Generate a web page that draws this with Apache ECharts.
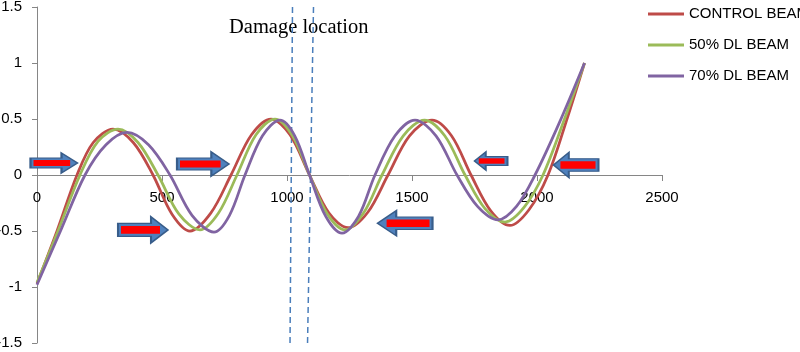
<!DOCTYPE html>
<html>
<head>
<meta charset="utf-8">
<script src="https://cdn.jsdelivr.net/npm/echarts@6/dist/echarts.min.js"></script>
<style>
html,body{margin:0;padding:0;background:#fff;}
#chart{width:800px;height:352px;}
</style>
</head>
<body>
<div id="chart"></div>
<script>
// ---- data ----
const seriesNames = ['CONTROL BEAM', '50% DL BEAM', '70% DL BEAM'];
const xTicks = [0, 500, 1000, 1500, 2000, 2500];
const yTicks = [-1.5, -1, -0.5, 0, 0.5, 1, 1.5];

const controlBeam = [
  [0,-0.97],[80,-0.5],[160,0],[225,0.29],[304,0.41],[385,0.29],[464,0],[540,-0.35],
  [612,-0.5],[695,-0.34],[776,0],[858,0.36],[936,0.5],[1012,0.36],[1090,0],[1168,-0.34],
  [1244,-0.47],[1324,-0.33],[1404,0],[1490,0.35],[1580,0.49],[1658,0.35],[1736,0],
  [1815,-0.32],[1892,-0.45],[1968,-0.31],[2044,0],[2120,0.5],[2190,1.0]
];
const dl50Beam = [
  [0,-0.96],[84,-0.5],[172,0],[244,0.3],[324,0.41],[404,0.29],[484,0],[568,-0.35],
  [652,-0.49],[726,-0.34],[800,0],[876,0.36],[952,0.5],[1022,0.35],[1090,0],[1162,-0.35],
  [1232,-0.49],[1306,-0.34],[1380,0],[1465,0.35],[1550,0.49],[1631,0.35],[1712,0],
  [1792,-0.3],[1872,-0.42],[1948,-0.29],[2024,0],[2110,0.5],[2190,1.0]
];
const dl70Beam = [
  [0,-0.98],[94,-0.5],[192,0],[276,0.27],[360,0.38],[446,0.27],[532,0],[620,-0.36],
  [708,-0.51],[770,-0.36],[832,0],[902,0.35],[972,0.49],[1031,0.35],[1090,0],[1155,-0.37],
  [1220,-0.52],[1286,-0.37],[1352,0],[1432,0.35],[1512,0.49],[1596,0.35],[1680,0],
  [1762,-0.28],[1844,-0.40],[1918,-0.28],[1992,0],[2090,0.47],[2190,1.0]
];
// damage location markers (top point, bottom point)
const damageLine1 = [[1022,1.5],[1012,-1.52]];
const damageLine2 = [[1106,1.5],[1082,-1.52]];
// annotation arrows: [x, y, direction]
const arrowAnchors = [
  [68,0.107,'right'],[664,0.098,'right'],[424,-0.49,'right'],
  [1472,-0.43,'left'],[1816,0.125,'left'],[2156,0.089,'left']
];
// ---- styling ----
const arrowSizes = [[47,20],[52,24],[50,26],[55,25],[33,18],[45,25]];
const colors = ['#BE4B48', '#9BBB59', '#8064A2'];
const axisColor = '#868686';
const font = '"Liberation Sans", Arial, sans-serif';
const gridTop = 7, gridBottom = 9, chartH = 352;

const chart = echarts.init(document.getElementById('chart'), null, {renderer:'canvas'});

const yMin = yTicks[0], yMax = yTicks[yTicks.length-1];
const plotH = chartH - gridTop - gridBottom;
const zeroOffset = -plotH * (0 - yMin) / (yMax - yMin);

const arrowPath = 'path://M0,25 L66,25 L66,0 L100,50 L66,100 L66,75 L0,75 Z';
const arrowData = arrowAnchors.map((a, i) => ({
  value: [a[0], a[1]],
  symbolSize: arrowSizes[i],
  symbolRotate: a[2] === 'left' ? 180 : 0
}));
const barData = arrowAnchors.map((a, i) => {
  const w = arrowSizes[i][0], h = arrowSizes[i][1];
  const bw = w * 0.78, bh = Math.max(5, h * 0.3);
  const off = (w / 2 - 3 - bw / 2) * (a[2] === 'left' ? 1 : -1);
  return { value: [a[0], a[1]], symbolSize: [bw, bh], symbolOffset: [off, 0] };
});

const lineSeries = [controlBeam, dl50Beam, dl70Beam].map((d, i) => ({
  name: seriesNames[i],
  type: 'line',
  data: d,
  smooth: 0.33,
  symbol: 'none',
  lineStyle: { color: colors[i], width: 2.75 },
  itemStyle: { color: colors[i] },
  z: 3
}));

const dashSeries = [damageLine1, damageLine2].map((d, i) => ({
  name: 'damage' + i,
  type: 'line',
  data: d,
  symbol: 'none',
  clip: false,
  silent: true,
  lineStyle: { color: '#4A7EBB', width: 1.5, type: [6, 4] },
  z: 2
}));

chart.setOption({
  animation: false,
  backgroundColor: '#fff',
  grid: { left: 37, right: 138, top: gridTop, bottom: gridBottom, containLabel: false, outerBoundsMode: 'none' },
  legend: {
    data: seriesNames,
    orient: 'vertical',
    left: 648, top: 6.5,
    padding: 0,
    icon: 'rect',
    itemWidth: 36, itemHeight: 3, itemGap: 16,
    textStyle: { fontFamily: font, fontSize: 15, color: '#000' }
  },
  xAxis: {
    type: 'value', min: xTicks[0], max: xTicks[xTicks.length-1], interval: 500,
    position: 'bottom', offset: zeroOffset,
    axisLine: { onZero: false, lineStyle: { color: axisColor, width: 1 } },
    axisTick: { show: true, length: 6, lineStyle: { color: axisColor } },
    axisLabel: { margin: 15, fontFamily: font, fontSize: 15, color: '#000', formatter: v => String(v) },
    splitLine: { show: false }
  },
  yAxis: {
    type: 'value', min: yMin, max: yMax, interval: 0.5,
    axisLine: { show: true, onZero: false, lineStyle: { color: axisColor, width: 1 } },
    axisTick: { show: true, length: 5, lineStyle: { color: axisColor } },
    axisLabel: { margin: 15, fontFamily: font, fontSize: 15, color: '#000', formatter: v => String(v) },
    splitLine: { show: false }
  },
  graphic: [{
    type: 'text', left: 229, top: 17,
    style: { text: 'Damage location', font: '20.5px "Liberation Serif", "Times New Roman", serif', fill: '#000' }
  }],
  series: lineSeries.concat(dashSeries).concat([
    {
      name: 'arrows', type: 'scatter', data: arrowData, symbol: arrowPath,
      symbolKeepAspect: false, silent: true,
      itemStyle: { color: '#4F81BD', borderColor: '#385D8A', borderWidth: 1.5, opacity: 1 },
      z: 5
    },
    {
      name: 'arrowBars', type: 'scatter', data: barData, symbol: 'rect', silent: true,
      itemStyle: { color: '#FF0000', opacity: 1 },
      z: 6
    }
  ])
});
</script>
</body>
</html>
